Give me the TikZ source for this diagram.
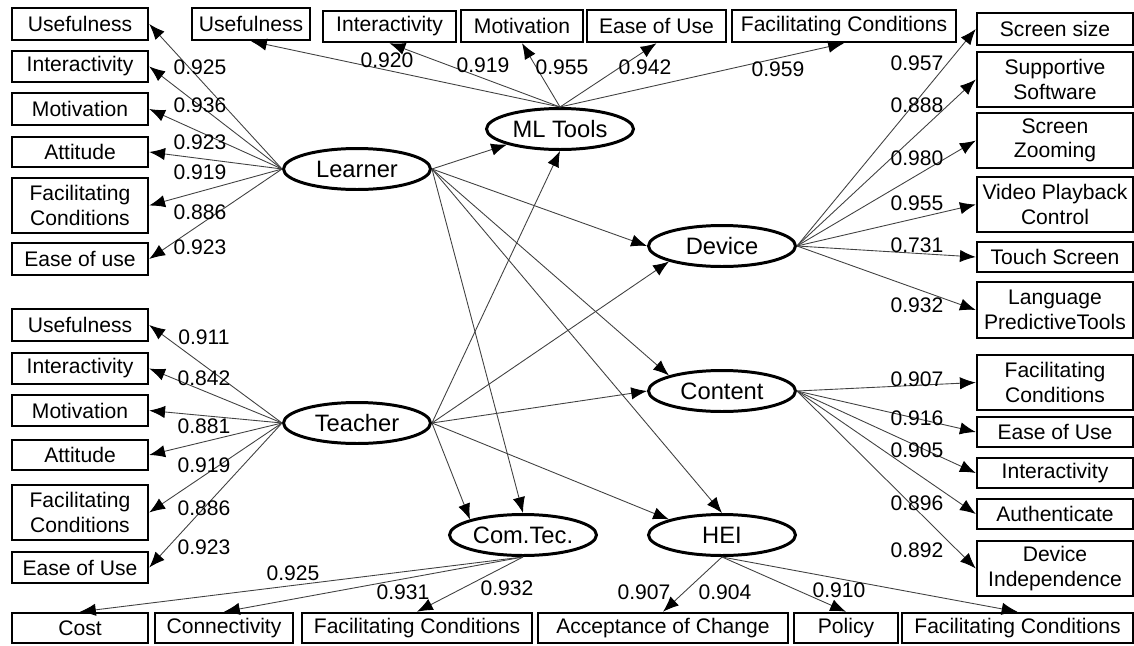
\documentclass[tikz,border=0pt]{standalone}
\usepackage{fontspec}
\setmainfont{Liberation Sans}
\usetikzlibrary{arrows.meta,shapes.geometric}
\tikzset{>={Latex[length=9pt,width=7pt,black]}}
\tikzset{
  % box size in pixels of the figure
  sz/.style 2 args={minimum width=#1*0.02cm, minimum height=#2*0.02cm},
  ind/.style={draw, line width=1.4pt, align=center, inner sep=0pt, font=\fontsize{12}{14}\selectfont},
  lat/.style={ellipse, draw, line width=1.7pt, inner sep=0pt, minimum width=2.94cm, minimum height=0.82cm, font=\fontsize{13.5}{15}\selectfont},
  coef/.style={inner sep=0pt, font=\fontsize{12}{14}\selectfont},
  ld/.style={->, draw=black!75, line width=0.5pt},
}
\begin{document}
\begin{tikzpicture}[x=0.02cm, y=-0.02cm]
  \useasboundingbox (0,0) rectangle (1134,646);

  % latent constructs
  \node[lat] (learner) at (357,169) {Learner};
  \node[lat] (teacher) at (357,423) {Teacher};
  \node[lat] (mltools) at (560,129) {ML Tools};
  \node[lat] (device)  at (722,246) {Device};
  \node[lat] (content) at (722,391) {Content};
  \node[lat] (comtec)  at (523,535) {Com.Tec.};
  \node[lat] (hei)     at (722,535) {HEI};

  % learner items
  \node[ind,sz={136}{32}] (lu) at (80,24)    {Usefulness};
  \node[ind,sz={136}{31}] (li) at (80,66.5)  {Interactivity};
  \node[ind,sz={136}{32}] (lm) at (80,109)   {Motivation};
  \node[ind,sz={136}{30}] (la) at (80,152)   {Attitude};
  \node[ind,sz={136}{55}] (lf) at (80,205.5) {Facilitating\\Conditions};
  \node[ind,sz={136}{32}] (le) at (80,259)   {Ease of use};

  % teacher items
  \node[ind,sz={136}{32}] (tu) at (80,325)   {Usefulness};
  \node[ind,sz={136}{31}] (ti) at (80,368.5) {Interactivity};
  \node[ind,sz={136}{31}] (tm) at (80,410.5) {Motivation};
  \node[ind,sz={136}{30}] (ta) at (80,455)   {Attitude};
  \node[ind,sz={136}{55}] (tf) at (80,512.5) {Facilitating\\Conditions};
  \node[ind,sz={136}{31}] (te) at (80,567.5) {Ease of Use};

  % ml tools items
  \node[ind,sz={118}{32}] (mu) at (251,24)    {Usefulness};
  \node[ind,sz={133}{31}] (mi) at (389.5,26.5) {Interactivity};
  \node[ind,sz={122}{32}] (mm) at (522,26)    {Motivation};
  \node[ind,sz={139}{32}] (me) at (656.5,26)  {Ease of Use};
  \node[ind,sz={224}{32}] (mf) at (844,26)    {Facilitating Conditions};

  % device items
  \node[ind,sz={156}{32}] (ds) at (1055,29)    {Screen size};
  \node[ind,sz={156}{55}] (dw) at (1055,79.5)  {Supportive\\Software};
  \node[ind,sz={156}{55}] (dz) at (1055,140.5) {Screen\\Zooming};
  \node[ind,sz={156}{55}] (dv) at (1055,204.5) {Video Playback\\Control};
  \node[ind,sz={156}{30}] (dt) at (1055,257)   {Touch Screen};
  \node[ind,sz={156}{56}] (dl) at (1055,310)   {Language\\PredictiveTools};

  % content items
  \node[ind,sz={156}{55}] (kf) at (1055,382.5) {Facilitating\\Conditions};
  \node[ind,sz={156}{30}] (ke) at (1055,432)   {Ease of Use};
  \node[ind,sz={156}{30}] (ki) at (1055,473)   {Interactivity};
  \node[ind,sz={156}{30}] (ka) at (1055,514)   {Authenticate};
  \node[ind,sz={156}{55}] (kd) at (1055,568.5) {Device\\Independence};

  % com.tec. and hei items
  \node[ind,sz={136}{30}] (cc) at (80,628)     {Cost};
  \node[ind,sz={138}{30}] (cn) at (224,628)    {Connectivity};
  \node[ind,sz={230}{30}] (cf) at (417,628)    {Facilitating Conditions};
  \node[ind,sz={250}{30}] (ha) at (663,628)    {Acceptance of Change};
  \node[ind,sz={104}{30}] (hp) at (846,628)    {Policy};
  \node[ind,sz={231}{30}] (hf) at (1017.5,628) {Facilitating Conditions};

  % structural paths
  \foreach \s/\t in {learner.east/mltools.south west, learner.east/device.west,
                     learner.east/content.north west, learner.east/comtec.north,
                     learner.east/hei.north, teacher.east/mltools.south,
                     teacher.east/device.south west, teacher.east/content.west,
                     teacher.east/comtec.north west, teacher.east/hei.north west}
    \draw[ld] (\s) -- (\t);

  % loadings
  \foreach \b in {lu,li,lm,la,lf,le} \draw[ld] (learner.west) -- (\b.east);
  \foreach \b in {tu,ti,tm,ta,tf,te} \draw[ld] (teacher.west) -- (\b.east);
  \foreach \b in {mu,mi,mm,me,mf} \draw[ld] (mltools.north) -- (\b.south);
  \foreach \b in {ds,dw,dz,dv,dt,dl} \draw[ld] (device.east) -- (\b.west);
  \foreach \b in {kf,ke,ki,ka,kd} \draw[ld] (content.east) -- (\b.west);
  \foreach \b in {cc,cn,cf} \draw[ld] (comtec.south) -- (\b.north);
  \foreach \b in {ha,hp,hf} \draw[ld] (hei.south) -- (\b.north);

  % loading values
  \foreach \v/\y [count=\i] in {0.925/67,0.936/105,0.923/142,0.919/172,0.886/212,0.923/247}
    \node[coef] (vl\i) at (200,\y) {\v};
  \foreach \v/\y [count=\i] in {0.911/337,0.842/378,0.881/426,0.919/465,0.886/508,0.923/547}
    \node[coef] (vt\i) at (204,\y) {\v};
  \foreach \v/\x/\y [count=\i] in {0.920/387/60,0.919/483/65,0.955/562/67,0.942/645/67,0.959/778/69}
    \node[coef] (vm\i) at (\x,\y) {\v};
  \foreach \v/\y [count=\i] in {0.957/63,0.888/105,0.980/158,0.955/203,0.731/245,0.932/305}
    \node[coef] (vd\i) at (917,\y) {\v};
  \foreach \v/\y [count=\i] in {0.907/379,0.916/418,0.905/450,0.896/503,0.892/550}
    \node[coef] (vk\i) at (917,\y) {\v};
  \foreach \v/\x/\y [count=\i] in {0.925/293/573,0.931/403/592,0.932/507/588,0.907/644/592,0.904/725/592,0.910/839/590}
    \node[coef] (vb\i) at (\x,\y) {\v};
\end{tikzpicture}
\end{document}
